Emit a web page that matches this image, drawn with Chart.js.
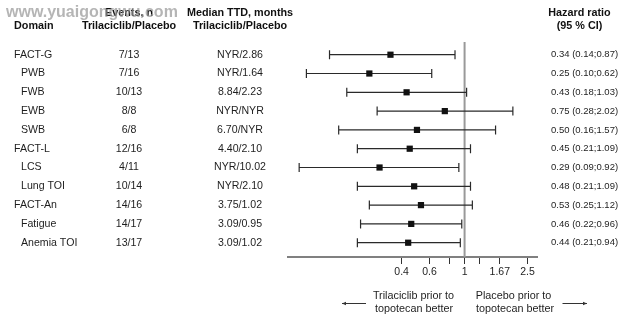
<!DOCTYPE html>
<html>
<head>
<meta charset="utf-8">
<script src="https://cdn.jsdelivr.net/npm/chart.js@4/dist/chart.umd.min.js"></script>
<style>
  html, body { margin:0; padding:0; background:#fff; }
  #wrap { width:634px; height:322px; }
</style>
</head>
<body>
<div id="wrap"><canvas id="forest" width="634" height="322"></canvas></div>
<script>
    // ─── Data ───────────────────────────────────────────────────────────
    const domains   = ['FACT-G','PWB','FWB','EWB','SWB','FACT-L','LCS','Lung TOI','FACT-An','Fatigue','Anemia TOI'];
    const isSub     = [false, true, true, true, true, false, true, true, false, true, true];
    const events    = ['7/13','7/16','10/13','8/8','6/8','12/16','4/11','10/14','14/16','14/17','13/17'];
    const medianTTD = ['NYR/2.86','NYR/1.64','8.84/2.23','NYR/NYR','6.70/NYR','4.40/2.10','NYR/10.02','NYR/2.10','3.75/1.02','3.09/0.95','3.09/1.02'];
    const hr        = [0.34, 0.25, 0.43, 0.75, 0.50, 0.45, 0.29, 0.48, 0.53, 0.46, 0.44];
    const ciLow     = [0.14, 0.10, 0.18, 0.28, 0.16, 0.21, 0.09, 0.21, 0.25, 0.22, 0.21];
    const ciHigh    = [0.87, 0.62, 1.03, 2.02, 1.57, 1.09, 0.92, 1.09, 1.12, 0.96, 0.94];
    const xTicks      = [0.4, 0.6, 0.8, 1, 1.25, 1.67, 2.5];
    const xTickLabels = ['0.4','0.6','','1','','1.67','2.5'];

    const FONT = '"Liberation Sans", Arial, sans-serif';
    const TXT = '#1e1e1e';

    // CI whiskers + reference line at HR = 1
    const errorBars = {
        id: 'errorBars',
        beforeDatasetsDraw(chart) {
            const { ctx, chartArea, scales: { x, y } } = chart;
            ctx.save();
            const x1 = x.getPixelForValue(1);
            ctx.strokeStyle = '#999';
            ctx.lineWidth = 2;
            ctx.beginPath();
            ctx.moveTo(x1, chartArea.top);
            ctx.lineTo(x1, chartArea.bottom);
            ctx.stroke();

            ctx.strokeStyle = '#2a2a2a';
            ctx.lineWidth = 1.2;
            hr.forEach((_, i) => {
                const yy = y.getPixelForValue(i);
                const xl = x.getPixelForValue(ciLow[i]);
                const xh = x.getPixelForValue(ciHigh[i]);
                ctx.beginPath();
                ctx.moveTo(xl, yy); ctx.lineTo(xh, yy);
                ctx.moveTo(xl, yy - 4.5); ctx.lineTo(xl, yy + 4.5);
                ctx.moveTo(xh, yy - 4.5); ctx.lineTo(xh, yy + 4.5);
                ctx.stroke();
            });
            ctx.restore();
        }
    };

    function arrow(ctx, from, to, yy) {
        const dir = Math.sign(to - from);
        ctx.beginPath();
        ctx.moveTo(from, yy); ctx.lineTo(to, yy);
        ctx.stroke();
        ctx.beginPath();
        ctx.moveTo(to, yy);
        ctx.lineTo(to - dir * 4, yy - 1.8);
        ctx.lineTo(to - dir * 4, yy + 1.8);
        ctx.closePath();
        ctx.fill();
    }

    // table columns, headers, footer labels
    const tableText = {
        id: 'tableText',
        afterDraw(chart) {
            const { ctx, scales: { y } } = chart;
            ctx.save();
            ctx.fillStyle = '#111';
            ctx.textBaseline = 'middle';

            // headers
            ctx.font = 'bold 10.8px ' + FONT;
            ctx.textAlign = 'left';
            ctx.fillText('Domain', 14, 26);
            ctx.textAlign = 'center';
            ctx.fillText('Events, n', 129, 13);
            ctx.fillText('Trilaciclib/Placebo', 129, 26);
            ctx.fillText('Median TTD, months', 240, 13);
            ctx.fillText('Trilaciclib/Placebo', 240, 26);
            ctx.fillText('Hazard ratio', 579.5, 13);
            ctx.fillText('(95 % CI)', 579.5, 26);

            // rows
            ctx.fillStyle = TXT;
            domains.forEach((d, i) => {
                const yy = y.getPixelForValue(i);
                ctx.font = '10.6px ' + FONT;
                ctx.textAlign = 'left';
                ctx.fillText(d, isSub[i] ? 21 : 14, yy);
                ctx.textAlign = 'center';
                ctx.fillText(events[i], 129, yy);
                ctx.fillText(medianTTD[i], 240, yy);
                ctx.font = '9.5px ' + FONT;
                ctx.textAlign = 'left';
                ctx.fillText(`${hr[i].toFixed(2)} (${ciLow[i].toFixed(2)};${ciHigh[i].toFixed(2)})`, 551, yy);
            });

            // footer
            ctx.font = '10.8px ' + FONT;
            ctx.textAlign = 'center';
            ctx.fillText('Trilaciclib prior to', 413.5, 296);
            ctx.fillText('topotecan better', 414, 309.5);
            ctx.fillText('Placebo prior to', 513.5, 296);
            ctx.fillText('topotecan better', 515, 309.5);
            ctx.strokeStyle = '#333';
            ctx.fillStyle = '#333';
            ctx.lineWidth = 1;
            arrow(ctx, 366, 342, 303.5);
            arrow(ctx, 562.5, 587, 303.5);

            // site stamp over the header
            ctx.font = 'bold 16px ' + FONT;
            ctx.textAlign = 'left';
            ctx.fillStyle = 'rgba(150,150,150,0.7)';
            ctx.fillText('www.yuaigongwu.com', 6, 12.5);
            ctx.restore();
        }
    };

    new Chart(document.getElementById('forest'), {
        type: 'scatter',
        data: {
            datasets: [{
                label: 'HR',
                data: hr.map((v, i) => ({ x: v, y: i })),
                pointStyle: 'rect',
                pointRadius: 4.4,
                pointHoverRadius: 4.4,
                backgroundColor: '#111',
                borderWidth: 0
            }]
        },
        options: {
            responsive: false,
            animation: false,
            layout: { padding: { left: 288, right: 97, top: 42, bottom: 0 } },
            plugins: { legend: { display: false }, tooltip: { enabled: false } },
            scales: {
                x: {
                    type: 'logarithmic',
                    min: 0.0765,
                    max: 2.87,
                    afterBuildTicks: axis => { axis.ticks = xTicks.map(v => ({ value: v })); },
                    afterFit: scale => { scale.height = 65; },
                    ticks: {
                        autoSkip: false, maxRotation: 0, padding: 2,
                        color: TXT, font: { family: FONT, size: 10.5 },
                        callback: (v, i) => xTickLabels[i]
                    },
                    grid: { drawOnChartArea: false, drawTicks: true, tickLength: 7, color: '#333', lineWidth: 1 },
                    border: { color: '#808080', width: 2 }
                },
                y: {
                    display: false,
                    reverse: true,
                    min: -0.676,
                    max: 10.76
                }
            }
        },
        plugins: [errorBars, tableText]
    });
</script>
</body>
</html>
